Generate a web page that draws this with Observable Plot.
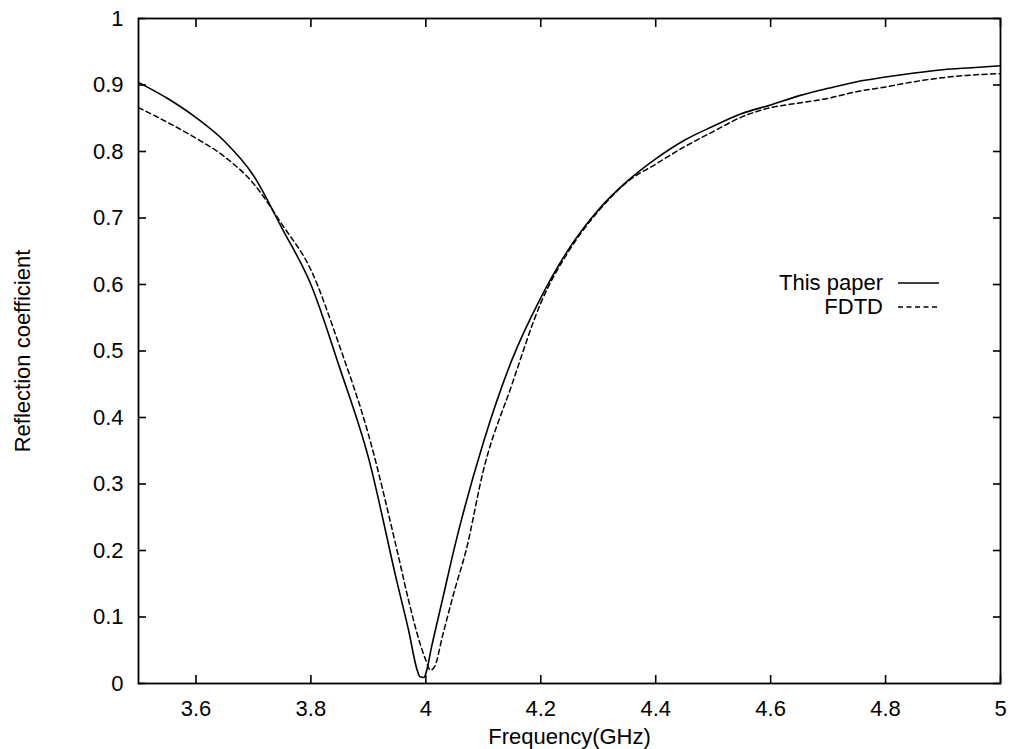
<!DOCTYPE html>
<html>
<head>
<meta charset="utf-8">
<script src="https://cdn.jsdelivr.net/npm/d3@7"></script>
<script src="https://cdn.jsdelivr.net/npm/@observablehq/plot@0.6"></script>
<style>
  body { margin: 0; background: #fff; }
  #chart { position: relative; width: 1012px; height: 749px; font-family: "Liberation Sans", Arial, Helvetica, sans-serif; color: #000; }
  .key-text { position: absolute; left: 0; width: 883px; text-align: right; font-size: 22px; line-height: 24px; }
  .key-line { position: absolute; left: 898px; width: 42px; height: 4px; }
</style>
</head>
<body>
<div id="chart"></div>
<script>
// Reflection coefficient vs frequency: computed result ("This paper") and FDTD reference
const paperFreq = [3.5, 3.55, 3.6, 3.65, 3.7, 3.75, 3.8, 3.85, 3.9, 3.95, 3.97, 3.985, 3.99, 3.997, 4.0, 4.01, 4.03, 4.05, 4.1, 4.15, 4.2, 4.25, 4.3, 4.35, 4.4, 4.45, 4.5, 4.55, 4.6, 4.65, 4.7, 4.75, 4.8, 4.85, 4.9, 4.95, 5.0];
const paperRefl = [0.904, 0.88, 0.851, 0.815, 0.764, 0.684, 0.6, 0.475, 0.34, 0.152, 0.08, 0.02, 0.01, 0.009, 0.015, 0.055, 0.13, 0.205, 0.362, 0.487, 0.58, 0.655, 0.712, 0.755, 0.789, 0.817, 0.838, 0.857, 0.87, 0.884, 0.895, 0.905, 0.912, 0.918, 0.923, 0.926, 0.929];

const fdtdFreq = [3.5, 3.55, 3.6, 3.65, 3.7, 3.75, 3.8, 3.85, 3.9, 3.95, 3.97, 3.99, 4.0, 4.008, 4.015, 4.03, 4.05, 4.07, 4.1, 4.15, 4.2, 4.25, 4.3, 4.35, 4.4, 4.45, 4.5, 4.55, 4.6, 4.65, 4.7, 4.75, 4.8, 4.85, 4.9, 4.95, 5.0];
const fdtdRefl = [0.866, 0.844, 0.82, 0.792, 0.752, 0.69, 0.622, 0.507, 0.375, 0.2, 0.125, 0.06, 0.035, 0.02, 0.025, 0.075, 0.14, 0.2, 0.32, 0.45, 0.572, 0.652, 0.71, 0.754, 0.781, 0.807, 0.83, 0.852, 0.866, 0.873, 0.88, 0.89, 0.897, 0.905, 0.911, 0.915, 0.917];

const seriesNames = ["This paper", "FDTD"];
const xTicks = [3.6, 3.8, 4.0, 4.2, 4.4, 4.6, 4.8, 5.0];
const yTicks = [0, 0.1, 0.2, 0.3, 0.4, 0.5, 0.6, 0.7, 0.8, 0.9, 1.0];
const xTitle = "Frequency(GHz)";
const yTitle = "Reflection coefficient";

const paper = paperFreq.map((f, i) => ({f, r: paperRefl[i]}));
const fdtd = fdtdFreq.map((f, i) => ({f, r: fdtdRefl[i]}));

const fmt = d => String(+d.toFixed(1));
const blank = () => "";

const plot = Plot.plot({
  width: 1012,
  height: 749,
  marginTop: 18,
  marginRight: 12,
  marginBottom: 66,
  marginLeft: 138,
  style: {fontFamily: '"Liberation Sans", Arial, Helvetica, sans-serif', fontSize: "22px", color: "#000", background: "#fff"},
  x: {domain: [3.5, 5.0]},
  y: {domain: [0, 1]},
  marks: [
    Plot.axisX({anchor: "bottom", ticks: xTicks, tickFormat: fmt, tickSize: -8, tickPadding: 25, strokeWidth: 1.6,
      label: xTitle, labelAnchor: "center", labelArrow: "none", labelOffset: 60}),
    Plot.axisX({anchor: "top", ticks: xTicks, tickFormat: blank, tickSize: -8, strokeWidth: 1.6, label: null}),
    Plot.axisY({anchor: "left", ticks: yTicks, tickFormat: fmt, tickSize: -8, tickPadding: 23, strokeWidth: 1.6,
      label: yTitle, labelAnchor: "center", labelArrow: "none", labelOffset: 124}),
    Plot.axisY({anchor: "right", ticks: yTicks, tickFormat: blank, tickSize: -8, strokeWidth: 1.6, label: null}),
    Plot.line(fdtd, {x: "f", y: "r", stroke: "#000", strokeWidth: 1.5, strokeDasharray: "5,3.5", curve: "monotone-x"}),
    Plot.line(paper, {x: "f", y: "r", stroke: "#000", strokeWidth: 1.6, curve: "monotone-x"}),
    Plot.frame({stroke: "#000", strokeWidth: 1.8})
  ]
});

const chart = document.getElementById("chart");
chart.appendChild(plot);

// Key: series name with a line sample to its right
const keyRows = [
  {name: seriesNames[0], top: 271, dash: null},
  {name: seriesNames[1], top: 295, dash: "5,3.5"}
];
for (const row of keyRows) {
  const t = document.createElement("div");
  t.className = "key-text";
  t.style.top = row.top + "px";
  t.textContent = row.name;
  chart.appendChild(t);
  const s = d3.create("svg").attr("class", "key-line").style("top", (row.top + 10) + "px")
    .attr("width", 42).attr("height", 4);
  s.append("line").attr("x1", 0).attr("x2", 41).attr("y1", 2).attr("y2", 2)
    .attr("stroke", "#000").attr("stroke-width", 1.5)
    .attr("stroke-dasharray", row.dash);
  chart.appendChild(s.node());
}
</script>
</body>
</html>
